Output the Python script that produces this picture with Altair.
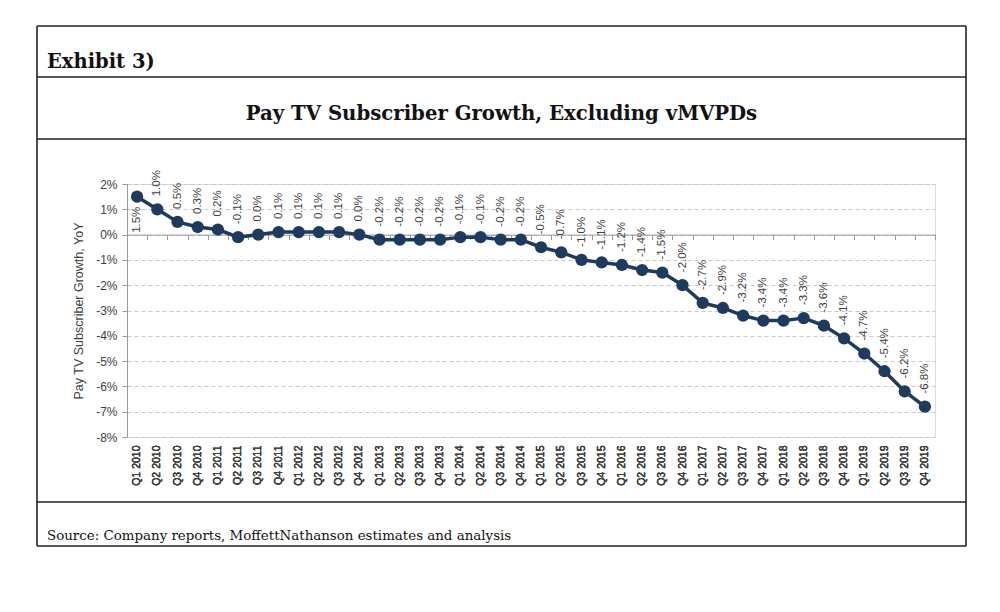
import altair as alt
import pandas as pd

quarters = [
    "Q1 2010", "Q2 2010", "Q3 2010", "Q4 2010",
    "Q1 2011", "Q2 2011", "Q3 2011", "Q4 2011",
    "Q1 2012", "Q2 2012", "Q3 2012", "Q4 2012",
    "Q1 2013", "Q2 2013", "Q3 2013", "Q4 2013",
    "Q1 2014", "Q2 2014", "Q3 2014", "Q4 2014",
    "Q1 2015", "Q2 2015", "Q3 2015", "Q4 2015",
    "Q1 2016", "Q2 2016", "Q3 2016", "Q4 2016",
    "Q1 2017", "Q2 2017", "Q3 2017", "Q4 2017",
    "Q1 2018", "Q2 2018", "Q3 2018", "Q4 2018",
    "Q1 2019", "Q2 2019", "Q3 2019", "Q4 2019",
]
growth = [
    1.5, 1.0, 0.5, 0.3,
    0.2, -0.1, 0.0, 0.1,
    0.1, 0.1, 0.1, 0.0,
    -0.2, -0.2, -0.2, -0.2,
    -0.1, -0.1, -0.2, -0.2,
    -0.5, -0.7, -1.0, -1.1,
    -1.2, -1.4, -1.5, -2.0,
    -2.7, -2.9, -3.2, -3.4,
    -3.4, -3.3, -3.6, -4.1,
    -4.7, -5.4, -6.2, -6.8,
]
y_ticks = [2, 1, 0, -1, -2, -3, -4, -5, -6, -7, -8]

exhibit_text = "Exhibit 3)"
title_text = "Pay TV Subscriber Growth, Excluding vMVPDs"
source_text = "Source: Company reports, MoffettNathanson estimates and analysis"
y_title = "Pay TV Subscriber Growth, YoY"

df = pd.DataFrame({"quarter": quarters, "value": growth})

W, H = 808, 253
NAVY = "#1d3b5f"
GREY_TXT = "#404040"
SANS = "Liberation Sans"
SERIF = "DejaVu Serif"

xscale = alt.Scale(type="band", paddingInner=0, paddingOuter=0)
yscale = alt.Scale(domain=[-8, 2], nice=False, zero=False)

x_label_axis = alt.Axis(
    orient="bottom", title=None, labelAngle=-90, labelAlign="right",
    labelBaseline="middle", labelFont=SANS, labelFontSize=10.5,
    labelFontWeight="normal",
    labelColor=GREY_TXT, labelPadding=8, ticks=False, domain=False,
    grid=False, labelOverlap=False,
)
x_tick_axis = alt.Axis(
    orient="bottom", title=None, labels=False, offset=-(H * 0.8),
    domain=True, domainColor="#9a9a9a", domainWidth=1,
    ticks=True, tickBand="extent", tickSize=5, tickColor="#9a9a9a",
    grid=False,
)
y_axis = alt.Axis(
    values=y_ticks, labelExpr="replace(format(datum.value, 'd'), '\u2212', '-') + '%'",
    title=y_title,
    titleFont=SANS, titleFontSize=12.5, titleFontWeight="normal",
    titleColor=GREY_TXT, titlePadding=10,
    labelFont=SANS, labelFontSize=12, labelColor=GREY_TXT, labelPadding=5,
    ticks=True, tickSize=5, tickColor="#9a9a9a",
    domain=True, domainColor="#9a9a9a",
    grid=True, gridColor="#c8c8c8", gridDash=[4, 3], gridWidth=1,
)

base = alt.Chart(df)
X = alt.X("quarter:N", sort=quarters, scale=xscale, bandPosition=0.5, axis=x_label_axis)
Y = alt.Y("value:Q", scale=yscale, axis=y_axis)

line = base.mark_line(color=NAVY, strokeWidth=3.5).encode(x=X, y=Y)
pts = base.mark_circle(color=NAVY, size=150, opacity=1).encode(x=X, y=Y)
zero_axis = base.mark_point(opacity=0).encode(
    x=alt.X("quarter:N", sort=quarters, scale=xscale, bandPosition=0.5, axis=x_tick_axis),
    y=Y,
)

label_expr = "replace(format(datum.value, '.1f'), '\u2212', '-') + '%'"
lbl_common = dict(angle=270, baseline="middle", font=SANS, fontSize=11.5, color=GREY_TXT)
labels_above = base.transform_filter(
    alt.datum.quarter != quarters[0]
).transform_calculate(label=label_expr).mark_text(
    align="left", dx=13, **lbl_common
).encode(x=X, y=Y, text="label:N")
labels_below = base.transform_filter(
    alt.datum.quarter == quarters[0]
).transform_calculate(label=label_expr).mark_text(
    align="right", dx=-10, **lbl_common
).encode(x=X, y=Y, text="label:N")

# Frame (plot-area pixel coordinates; plot origin at page (127,184))
L, R, T, B = -90, 839, -158, 362
D1, D2, D3 = -107, -45, 318
frame_color = "#222222"
frame_lines = [
    dict(x=alt.value(L), x2=alt.value(L), y=alt.value(T), y2=alt.value(B)),
    dict(x=alt.value(R), x2=alt.value(R), y=alt.value(T), y2=alt.value(B)),
    dict(x=alt.value(L), x2=alt.value(R), y=alt.value(T), y2=alt.value(T)),
    dict(x=alt.value(L), x2=alt.value(R), y=alt.value(B), y2=alt.value(B)),
    dict(x=alt.value(L), x2=alt.value(R), y=alt.value(D1), y2=alt.value(D1)),
    dict(x=alt.value(L), x2=alt.value(R), y=alt.value(D2), y2=alt.value(D2)),
    dict(x=alt.value(L), x2=alt.value(R), y=alt.value(D3), y2=alt.value(D3)),
]
one = pd.DataFrame({"a": [0]})
frame = [
    alt.Chart(one).mark_rule(color=frame_color, strokeWidth=1.6).encode(**enc)
    for enc in frame_lines
]

exhibit = alt.Chart(one).mark_text(
    text=exhibit_text, font=SERIF, fontSize=19.5, fontWeight="bold",
    align="left", baseline="alphabetic", color="#111111",
).encode(x=alt.value(-80), y=alt.value(-116))
title = alt.Chart(one).mark_text(
    text=title_text, font=SERIF, fontSize=19.7, fontWeight="bold",
    align="center", baseline="alphabetic", color="#111111",
).encode(x=alt.value(374.5), y=alt.value(-64))
source = alt.Chart(one).mark_text(
    text=source_text, font=SERIF, fontSize=13.4,
    align="left", baseline="alphabetic", color="#111111",
).encode(x=alt.value(-80), y=alt.value(356))

chart = alt.layer(
    zero_axis, line, pts, labels_above, labels_below, *frame, exhibit, title, source
).resolve_axis(x="independent").properties(
    width=W, height=H,
    autosize=alt.AutoSizeParams(type="none"),
    padding={"left": 119, "top": 176, "right": 57, "bottom": 167},
).configure_view(stroke=None).configure(background="white")

chart.save("out.html", embed_options={"renderer": "svg", "actions": False})
